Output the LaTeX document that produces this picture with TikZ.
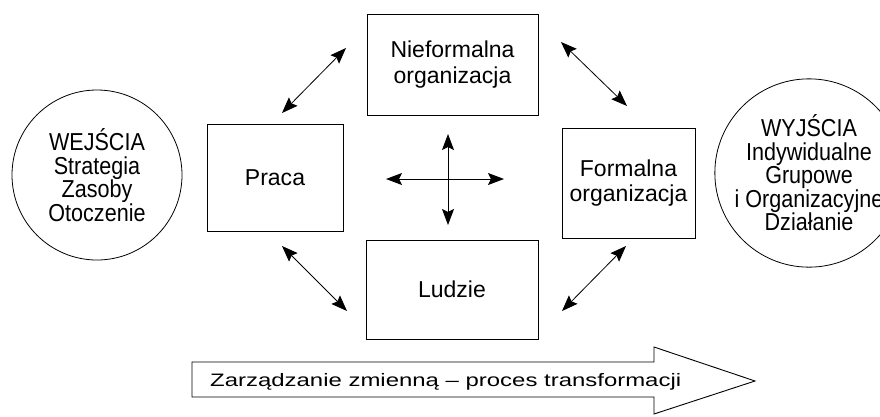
\documentclass[tikz,border=0pt]{standalone}
\usepackage{fontspec}
\setmainfont{Liberation Sans}
\newfontfamily\circfont[FakeStretch=0.88]{Liberation Sans}
\newfontfamily\widefont[FakeStretch=1.33]{Liberation Sans}
\usetikzlibrary{arrows.meta}
\begin{document}
\begin{tikzpicture}[x=1pt,y=-1pt,
  box/.style={draw, line width=0.9pt, inner sep=0pt, align=center,
    font=\fontsize{23}{25.5}\selectfont},
  ring/.style={draw, circle, line width=0.8pt, inner sep=0pt, align=center,
    font=\circfont\fontsize{24.5}{23.5}\selectfont},
  link/.style={line width=0.8pt, {Stealth[length=16pt,width=12pt,inset=2.5pt]}-{Stealth[length=16pt,width=12pt,inset=2.5pt]}},
  cross/.style={line width=0.9pt, {Stealth[length=16pt,width=12pt,inset=3pt]}-{Stealth[length=16pt,width=12pt,inset=3pt]}},
  flow/.style={draw, line width=0.9pt}]
\useasboundingbox (0,0) rectangle (880,416);
\clip (0,0) rectangle (880,416);
% circles
\node[ring, minimum size=170pt] (wej) at (97,175) {WEJŚCIA\\Strategia\\Zasoby\\Otoczenie};
\node[ring, minimum size=172pt] (wyj) at (809,173) {WYJŚCIA\\Indywidualne\\Grupowe\\i Organizacyjne\\Działanie};
% boxes
\node[box, minimum width=136pt, minimum height=107pt] (praca) at (275,177.5) {Praca};
\node[box, minimum width=171pt, minimum height=101pt] (nief) at (452.5,64.5) {Nieformalna\\organizacja};
\node[box, minimum width=133pt, minimum height=110pt] (form) at (628.5,183) {Formalna\\organizacja};
\node[box, minimum width=172pt, minimum height=99pt] (ludzie) at (452,289.5) {Ludzie};
% arrow endpoints
\coordinate (tl1) at (282,113); \coordinate (tl2) at (346,48);
\coordinate (tr1) at (561,42);  \coordinate (tr2) at (627,106);
\coordinate (bl1) at (282,246); \coordinate (bl2) at (347,311);
\coordinate (br1) at (562,311); \coordinate (br2) at (626,246);
\draw[link] (tl1) -- (tl2);
\draw[link] (tr1) -- (tr2);
\draw[link] (bl1) -- (bl2);
\draw[link] (br1) -- (br2);
% central cross
\coordinate (cw) at (386,179); \coordinate (ce) at (504,179);
\coordinate (cn) at (448,134); \coordinate (cs) at (448,225);
\draw[cross] (cw) -- (ce);
\draw[cross] (cn) -- (cs);
% bottom process arrow
\draw[flow] (192,362) -- (654,362) -- (654,347) -- (755,381) -- (654,414) -- (654,397) -- (192,397) -- cycle;
\node[anchor=base west, inner sep=0pt, font=\widefont\fontsize{18}{20}\selectfont] (proc) at (210,386) {Zarządzanie zmienną – proces transformacji};
\end{tikzpicture}
\end{document}
